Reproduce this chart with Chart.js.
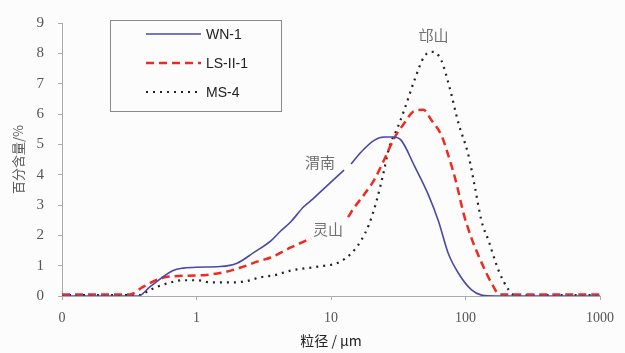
<!DOCTYPE html>
<html>
<head>
<meta charset="utf-8">
<script src="https://cdn.jsdelivr.net/npm/chart.js@4/dist/chart.umd.min.js"></script>
<style>
  body { margin: 0; background: #fcfcfc; }
  #wrap { width: 625px; height: 353px; }
</style>
</head>
<body>
<div id="wrap"><canvas id="grafico" width="625" height="353"></canvas></div>
<script>
// Eixo x: tamanho do grão (μm), escala log
var xTicks = [0.1, 1, 10, 100, 1000];
var xTickLabels = ["0", "1", "10", "100", "1000"];
var yTicks = [0, 1, 2, 3, 4, 5, 6, 7, 8, 9];

// WN-1 (渭南)
var sizeWN = [0.1, 0.37, 0.45, 0.67, 0.8, 1.0, 1.5, 2.0, 2.66, 3.57, 4.24, 5.03, 6.29, 7.34, 8.42, 12.5, 13.3, 14.1, 16.7, 20.9, 24.9, 29.0, 33.3, 41.6, 52.8, 62.9, 74.5, 88.6, 110.9, 131.6, 169, 1000];
var valueWN = [0, 0, 0.3, 0.84, 0.92, 0.95, 0.97, 1.08, 1.43, 1.82, 2.15, 2.45, 2.95, 3.2, 3.45, 4.15, null, 4.35, 4.74, 5.13, 5.24, 5.24, 5.13, 4.3, 3.35, 2.47, 1.4, 0.75, 0.2, 0.03, 0, 0];

// LS-II-1 (灵山)
var sizeLS = [0.1, 0.32, 0.4, 0.54, 0.67, 1.07, 1.59, 2.13, 3.0, 3.57, 5.03, 7.1, 10, 13.4, 14.8, 17.6, 20.9, 24.9, 29.5, 35.1, 41.6, 48.6, 55.7, 66.2, 74.5, 85, 97, 110.9, 131.6, 156.3, 179.4, 1000];
var valueLS = [0.05, 0.05, 0.3, 0.58, 0.65, 0.68, 0.78, 0.94, 1.17, 1.27, 1.6, 1.9, null, 2.6, 2.9, 3.34, 3.82, 4.5, 5.2, 5.7, 6.1, 6.14, 5.8, 5.3, 4.64, 3.77, 2.7, 1.9, 1.1, 0.42, 0.05, 0.05];

// MS-4 (邙山)
var sizeMS = [0.1, 0.38, 0.45, 0.61, 0.8, 1.02, 1.27, 1.89, 2.4, 3.0, 3.76, 5.03, 8.0, 11.3, 14.1, 16.7, 19.2, 21.7, 24.4, 27.1, 31.6, 35.1, 41.6, 49.4, 57.7, 66.2, 75.9, 88.6, 105.2, 118, 131.6, 148.5, 176.3, 209.4, 232, 1000];
var valueMS = [0.03, 0.03, 0.2, 0.42, 0.52, 0.52, 0.45, 0.45, 0.5, 0.62, 0.68, 0.84, 0.97, 1.1, 1.4, 1.82, 2.37, 3.1, 4.0, 4.9, 5.6, 6.14, 7.1, 7.9, 8.05, 7.76, 6.9, 5.7, 4.64, 3.54, 2.47, 1.82, 0.84, 0.2, 0.03, 0.03];

// Rótulos de região sobre as curvas
var regionNames = ["渭南", "灵山", "邙山"];
var regionX = [8.3, 9.5, 57.7];
var regionY = [4.4, 2.2, 8.6];

function pares(xs, ys) {
  return xs.map(function (x, i) { return { x: x, y: ys[i] }; });
}

// Legenda desenhada dentro da área do gráfico
var legendaCaixa = {
  id: "legendaCaixa",
  afterDraw: function (chart) {
    var ctx = chart.ctx;
    var left = 110, top = 20, w = 171, h = 91;
    ctx.save();
    ctx.strokeStyle = "#8a8a8a";
    ctx.lineWidth = 1;
    ctx.strokeRect(left + 0.5, top + 0.5, w, h);
    chart.data.datasets.forEach(function (ds, i) {
      var y = top + 14 + i * 29;
      ctx.beginPath();
      ctx.strokeStyle = ds.borderColor;
      ctx.lineWidth = ds.borderWidth;
      ctx.setLineDash(ds.borderDash || []);
      ctx.moveTo(146, y);
      ctx.lineTo(201, y);
      ctx.stroke();
      ctx.setLineDash([]);
      ctx.fillStyle = "#222";
      ctx.font = "14px 'Liberation Sans', Arial, sans-serif";
      ctx.textBaseline = "middle";
      ctx.textAlign = "left";
      ctx.fillText(ds.label, 206, y + 1);
    });
    ctx.restore();
  },
};

var rotulosRegiao = {
  id: "rotulosRegiao",
  afterDatasetsDraw: function (chart) {
    var ctx = chart.ctx;
    var sx = chart.scales.x, sy = chart.scales.y;
    ctx.save();
    ctx.fillStyle = "#707070";
    ctx.font = "15px 'Noto Sans CJK SC', sans-serif";
    ctx.textAlign = "center";
    ctx.textBaseline = "middle";
    regionNames.forEach(function (t, i) {
      ctx.fillText(t, sx.getPixelForValue(regionX[i]), sy.getPixelForValue(regionY[i]));
    });
    ctx.restore();
  },
};

var grafico = document.getElementById("grafico").getContext("2d");

new Chart(grafico, {
  type: "line",
  data: {
    datasets: [
      {
        label: "WN-1",
        data: pares(sizeWN, valueWN),
        borderColor: "#4a48a8",
        borderWidth: 1.6,
        cubicInterpolationMode: "monotone",
        pointRadius: 0,
        spanGaps: false,
      },
      {
        label: "LS-II-1",
        data: pares(sizeLS, valueLS),
        borderColor: "#f02a20",
        borderWidth: 2.5,
        borderDash: [8, 5],
        cubicInterpolationMode: "monotone",
        pointRadius: 0,
        spanGaps: false,
      },
      {
        label: "MS-4",
        data: pares(sizeMS, valueMS),
        borderColor: "#222222",
        borderWidth: 2.2,
        borderDash: [2, 5],
        cubicInterpolationMode: "monotone",
        pointRadius: 0,
        spanGaps: false,
      },
    ],
  },
  options: {
    responsive: false,
    animation: false,
    layout: {
      padding: { top: 19, right: 25, left: 6, bottom: 0 },
    },
    plugins: {
      legend: { display: false },
      tooltip: { enabled: false },
    },
    scales: {
      x: {
        type: "logarithmic",
        min: 0.1,
        max: 1000,
        afterBuildTicks: function (scale) {
          scale.ticks = xTicks.map(function (v) { return { value: v }; });
        },
        afterFit: function (scale) {
          scale.height = 57;
        },
        grid: {
          display: true,
          drawOnChartArea: false,
          color: "#aaaaaa",
          tickLength: 4,
        },
        border: { color: "#aaaaaa" },
        ticks: {
          autoSkip: false,
          maxRotation: 0,
          padding: 10,
          color: "#555",
          font: { family: "'Liberation Serif', serif", size: 14 },
          callback: function (v) {
            var i = xTicks.indexOf(v);
            return i >= 0 ? xTickLabels[i] : "";
          },
        },
        title: {
          display: true,
          text: "粒径 / μm",
          color: "#222",
          padding: { top: 2 },
          font: { family: "'Noto Sans CJK SC', sans-serif", size: 14 },
        },
      },
      y: {
        min: 0,
        max: 9,
        afterBuildTicks: function (scale) {
          scale.ticks = yTicks.map(function (v) { return { value: v }; });
        },
        afterFit: function (scale) {
          scale.width = 56;
        },
        grid: {
          display: true,
          drawOnChartArea: false,
          color: "#aaaaaa",
          tickLength: 4,
        },
        border: { color: "#aaaaaa" },
        ticks: {
          padding: 14,
          color: "#555",
          font: { family: "'Liberation Serif', serif", size: 15 },
        },
        title: {
          display: true,
          text: "百分含量/%",
          color: "#555",
          padding: { bottom: 2 },
          font: { family: "'Noto Sans CJK SC', sans-serif", size: 13 },
        },
      },
    },
  },
  plugins: [legendaCaixa, rotulosRegiao],
});
</script>
</body>
</html>
